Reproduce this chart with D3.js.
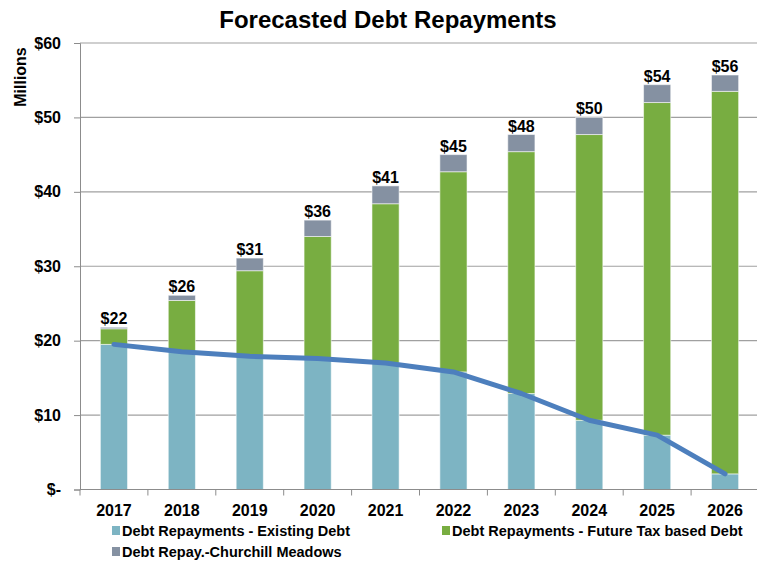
<!DOCTYPE html>
<html>
<head>
<meta charset="utf-8">
<script src="https://cdn.jsdelivr.net/npm/d3@7/dist/d3.min.js"></script>
<style>
  html, body { margin: 0; padding: 0; background: #fff; }
  svg { display: block; font-family: "Liberation Sans", Arial, sans-serif; }
</style>
</head>
<body>
<svg id="chart" width="757" height="563"></svg>
<script>
// Forecasted annual debt repayments, $ millions
const years = ["2017","2018","2019","2020","2021","2022","2023","2024","2025","2026"];
const existingDebt = [19.5, 18.5, 17.9, 17.6, 17.0, 15.8, 12.9, 9.3, 7.3, 2.1];
const futureTaxDebt = [2.1, 6.9, 11.5, 16.4, 21.4, 26.9, 32.5, 38.4, 44.7, 51.4];
const churchillMeadows = [0.2, 0.7, 1.7, 2.2, 2.4, 2.3, 2.3, 2.3, 2.4, 2.2];
const totalLabels = ["$22","$26","$31","$36","$41","$45","$48","$50","$54","$56"];
const yTicks = [0, 10, 20, 30, 40, 50, 60];

const seriesNames = [
  "Debt Repayments - Existing Debt",
  "Debt Repayments - Future Tax based Debt",
  "Debt Repay.-Churchill Meadows"
];
const seriesColors = ["#7db4c3", "#78ad41", "#8591a2"];
const lineColor = "#4d7fbd";

const svg = d3.select("#chart");
const margin = { left: 80, right: 759, top: 43, bottom: 489.5 };
const fontFamily = "Liberation Sans, Arial, sans-serif";

const x = d3.scaleBand().domain(years).range([margin.left, margin.right]).paddingInner(0.6).paddingOuter(0.3);
const xOuter = d3.scaleBand().domain(years).range([margin.left, margin.right]);
const y = d3.scaleLinear().domain([0, 60]).range([margin.bottom, margin.top]);

const rows = years.map((yr, i) => ({
  year: yr,
  existing: existingDebt[i],
  future: futureTaxDebt[i],
  churchill: churchillMeadows[i],
  label: totalLabels[i]
}));
const keys = ["existing", "future", "churchill"];
const stacked = d3.stack().keys(keys)(rows);

// Title
svg.append("text")
  .attr("x", 388).attr("y", 28)
  .attr("text-anchor", "middle")
  .attr("font-size", 24).attr("font-weight", "bold")
  .text("Forecasted Debt Repayments");

// Gridlines
svg.append("g")
  .selectAll("line")
  .data(yTicks.filter(t => t > 0))
  .join("line")
  .attr("x1", margin.left).attr("x2", margin.right)
  .attr("y1", d => y(d)).attr("y2", d => y(d))
  .attr("stroke", "#a0a0a0").attr("stroke-width", 1.2);

// Y axis
const yAxis = svg.append("g")
  .attr("transform", `translate(${margin.left},0)`)
  .call(d3.axisLeft(y).tickValues(yTicks).tickSize(6).tickPadding(13)
    .tickFormat(d => d === 0 ? "$-" : "$" + d));
yAxis.select(".domain").attr("stroke", "#8c8c8c");
yAxis.selectAll(".tick line").attr("stroke", "#8c8c8c");
yAxis.selectAll(".tick text")
  .attr("x", -19)
  .attr("font-size", 16).attr("font-weight", "bold").attr("fill", "#000")
  .attr("font-family", fontFamily);

// Y axis title
svg.append("text")
  .attr("transform", "translate(26,77) rotate(-90)")
  .attr("text-anchor", "middle")
  .attr("font-size", 16).attr("font-weight", "bold")
  .text("Millions");

// Stacked bars
svg.append("g")
  .selectAll("g")
  .data(stacked)
  .join("g")
  .attr("fill", (d, i) => seriesColors[i])
  .selectAll("rect")
  .data(d => d)
  .join("rect")
  .attr("x", d => x(d.data.year))
  .attr("width", x.bandwidth())
  .attr("y", d => y(d[1]))
  .attr("height", d => y(d[0]) - y(d[1]))
  .attr("stroke", "rgba(255,255,255,0.55)")
  .attr("stroke-width", 1);

// X axis
const xAxis = svg.append("g")
  .attr("transform", `translate(0,${margin.bottom})`)
  .call(d3.axisBottom(x).tickSize(0));
xAxis.select(".domain").remove();
xAxis.selectAll(".tick text")
  .attr("y", 26).attr("dy", 0)
  .attr("font-size", 16).attr("font-weight", "bold").attr("fill", "#000")
  .attr("font-family", fontFamily);

svg.append("line")
  .attr("x1", margin.left).attr("x2", margin.right)
  .attr("y1", margin.bottom).attr("y2", margin.bottom)
  .attr("stroke", "#8c8c8c");
svg.append("g")
  .selectAll("line")
  .data(years.concat(["end"]))
  .join("line")
  .attr("x1", (d, i) => margin.left + i * xOuter.step())
  .attr("x2", (d, i) => margin.left + i * xOuter.step())
  .attr("y1", margin.bottom).attr("y2", margin.bottom + 6)
  .attr("stroke", "#8c8c8c");

// Existing debt trend line
svg.append("path")
  .datum(rows)
  .attr("fill", "none")
  .attr("stroke", lineColor)
  .attr("stroke-width", 5)
  .attr("stroke-linecap", "round")
  .attr("stroke-linejoin", "round")
  .attr("d", d3.line()
    .x(d => x(d.year) + x.bandwidth() / 2)
    .y(d => y(d.existing)));

// Total labels
svg.append("g")
  .selectAll("text")
  .data(rows)
  .join("text")
  .attr("x", d => x(d.year) + x.bandwidth() / 2)
  .attr("y", d => y(d.existing + d.future + d.churchill) - 3)
  .attr("text-anchor", "middle")
  .attr("font-size", 16).attr("font-weight", "bold")
  .text(d => d.label);

// Legend
const legendPos = [[112, 536], [442, 536], [112, 557]];
const legend = svg.append("g")
  .selectAll("g")
  .data(seriesNames)
  .join("g")
  .attr("transform", (d, i) => `translate(${legendPos[i][0]},${legendPos[i][1]})`);
legend.append("rect")
  .attr("x", 0).attr("y", -10).attr("width", 8).attr("height", 9)
  .attr("fill", (d, i) => seriesColors[i]);
legend.append("text")
  .attr("x", 10).attr("y", 0)
  .attr("font-size", 14.5).attr("font-weight", "bold")
  .text(d => d);
</script>
</body>
</html>
